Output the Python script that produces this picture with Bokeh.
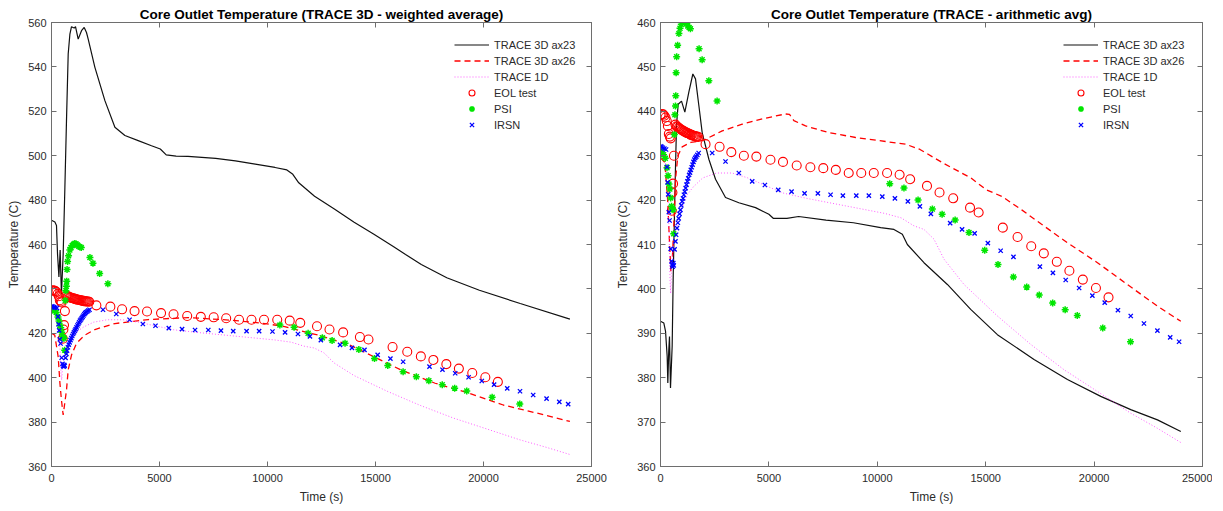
from bokeh.plotting import figure
from bokeh.models import Legend, LegendItem, FixedTicker, LinearAxis, Range1d
from bokeh.layouts import row
from bokeh.embed import file_html
from bokeh.resources import INLINE

# ---------------- data ----------------
x_ticks = [0, 5000, 10000, 15000, 20000, 25000]
y_ticks_left = [360, 380, 400, 420, 440, 460, 480, 500, 520, 540, 560]
y_ticks_right = [360, 370, 380, 390, 400, 410, 420, 430, 440, 450, 460]

titles = ["Core Outlet Temperature (TRACE 3D - weighted average)",
          "Core Outlet Temperature (TRACE - arithmetic avg)"]
series_names = ["TRACE 3D ax23", "TRACE 3D ax26", "TRACE 1D", "EOL test", "PSI", "IRSN"]

# left panel: TRACE 3D weighted average
ax23_w_t = [0, 157, 231, 278, 343, 400, 460, 540, 620, 694, 773, 852, 926, 1051, 1111, 1236, 1389, 1514,
            1620, 1699, 2009, 2472, 2935, 3398, 4014, 4630, 5037, 5311, 5769, 6319, 7601, 8516, 9432,
            10348, 10897, 11172, 11447, 12179, 13095, 14011, 14927, 15842, 16392, 17120, 18300, 19810,
            21700, 24000]
ax23_w_T = [470.9, 470.1, 468.6, 455.9, 445.4, 457.5, 437.5, 455.5, 485.8, 515.8, 545.8, 554.8, 558.1,
            557.5, 558.1, 552.5, 556.3, 557.8, 555.5, 552.5, 539.8, 524.8, 512.8, 509.1, 506.8, 504.5,
            503.0, 500.4, 499.8, 499.7, 498.8, 497.7, 496.2, 494.7, 493.6, 491.6, 487.8, 481.7, 476.0,
            470.0, 464.6, 459.0, 455.5, 451.0, 445.0, 439.4, 433.4, 426.4]

ax26_w_t = [0, 150, 310, 390, 460, 540, 620, 695, 773, 926, 1157, 1546, 2009, 2935, 4477, 6329, 8333,
            9880, 10800, 11421, 12500, 13817, 15080, 16183, 17762, 19338, 20913, 22493, 24000]
ax26_w_T = [420.0, 419.2, 409.4, 397.5, 390.0, 383.2, 389.0, 394.5, 403.5, 410.2, 415.5, 419.2, 421.7,
            424.4, 426.2, 427.1, 425.9, 424.4, 423.0, 421.4, 418.8, 414.7, 408.7, 403.5, 397.5, 393.0,
            387.7, 384.0, 380.3]

# right panel: TRACE 3D arithmetic average
ax23_a_t = [0, 154, 231, 308, 338, 380, 415, 461, 538, 584, 615, 680, 740, 815, 969, 1050, 1123, 1307,
            1492, 1615, 1769, 1923, 2231, 2538, 2999, 3614, 4384, 4999, 5199, 5830, 6372, 7635, 8899,
            10155, 10768, 11155, 11387, 12153, 13233, 14308, 15540, 17229, 18770, 20307, 21691, 22923,
            24000]
ax23_a_T = [392.7, 392.3, 390.5, 384.8, 378.8, 386.0, 389.3, 377.7, 387.1, 402.1, 409.7, 425.0, 437.0,
            441.6, 442.3, 441.0, 439.8, 444.3, 448.4, 447.3, 441.3, 435.2, 429.2, 424.7, 420.6, 419.4,
            418.3, 416.8, 415.9, 415.9, 416.3, 415.5, 414.9, 413.8, 413.4, 412.3, 410.0, 405.9, 401.0,
            395.4, 389.7, 384.1, 379.6, 375.8, 372.8, 370.5, 367.9]

ax26_a_t = [0, 200, 330, 420, 480, 540, 620, 700, 800, 1000, 1400, 1800, 2077, 2847, 3770, 4693, 5768,
            5950, 6151, 6691, 7767, 8999, 10535, 11306, 11968, 13050, 14314, 15036, 15758, 16661, 17563,
            18770, 20155, 21844, 22923, 24000]
ax26_a_T = [429.5, 428.5, 420.0, 410.0, 404.0, 406.0, 415.0, 425.0, 430.0, 432.0, 433.0, 433.3, 433.7,
            435.6, 437.1, 438.3, 439.4, 439.3, 437.9, 436.7, 435.2, 434.1, 433.1, 432.6, 431.4, 428.3,
            425.0, 422.3, 420.8, 417.8, 414.6, 410.4, 405.9, 399.9, 396.1, 392.7]

# shared: TRACE 1D
trace1d_t = [0, 200, 330, 400, 440, 470, 500, 540, 600, 700, 850, 1050, 1250, 1498, 1950, 2581, 3303,
             4025, 4928, 5650, 6733, 8538, 10343, 11100, 11691, 12153, 12614, 13076, 13999, 15540,
             17077, 18613, 20155, 21691, 22923, 24000]
trace1d_T = [430.5, 429.8, 424.0, 412.0, 402.0, 399.0, 403.0, 407.0, 410.0, 413.0, 416.0, 419.0, 421.3,
             422.9, 425.0, 426.1, 426.1, 425.0, 423.1, 421.6, 420.4, 418.7, 417.0, 416.0, 414.2, 413.4,
             411.2, 406.7, 401.0, 393.9, 387.5, 381.8, 376.9, 372.0, 368.6, 365.4]

# shared: measured / other codes
eol_t = [0, 60, 120, 180, 231, 290, 340, 385, 430, 470, 520, 550, 580, 620,
         690, 740, 790, 840, 890, 940, 990, 1040, 1090, 1140, 1190, 1240, 1290, 1340, 1390, 1440, 1490,
         1540, 1590, 1640, 1690, 1750,
         2077, 2725, 3267, 3845, 4422, 5072, 5650, 6282, 6913, 7509, 8087, 8682, 9260, 9838, 10451,
         11029, 11516, 12292, 12870, 13502, 14278, 14675, 15790, 16470, 17100, 17680, 18280, 18860,
         19480, 20085, 20665]
eol_T = [439.2, 439.4, 439.3, 439.0, 438.6, 437.8, 436.7, 434.9, 434.3, 433.9, 417.6, 421.7, 423.7, 430.0,
         437.0, 436.6, 436.5, 436.2, 436.1, 435.9, 435.8, 435.6, 435.5, 435.3, 435.2, 435.1, 435.0, 434.9,
         434.7, 434.7, 434.5, 434.5, 434.4, 434.3, 434.3, 434.2,
         432.6, 432.0, 430.8, 430.0, 429.8, 429.1, 428.6, 427.8, 427.4, 427.2, 426.8, 426.1, 426.1,
         426.1, 426.1, 425.7, 424.7, 423.2, 421.7, 420.4, 418.3, 417.2, 413.8, 411.7, 409.6, 408.0,
         406.1, 404.1, 402.1, 400.2, 398.1]

psi_t = [0, 60, 140, 220, 300, 350, 390, 430, 470, 510, 545, 580, 610, 640, 665, 690, 705, 720, 745, 790,
         850, 900, 960, 1020, 1080, 1140, 1200, 1260, 1320, 1380, 1780, 1920, 2230, 2610,
         10574, 11230, 11880, 12540, 12990, 13590, 14229, 14954, 15568, 16278, 16892, 17470, 18090,
         18665, 19225, 20400, 21680]
psi_T = [431.0, 430.6, 430.2, 429.4, 427.3, 425.5, 423.6, 422.5, 420.5, 418.6, 418.0, 417.8, 412.4, 434.8,
         439.2, 441.2, 443.5, 448.7, 452.3, 454.9, 457.5, 458.7, 459.6, 460.1, 460.4, 460.2, 459.8,
         459.2, 458.9, 458.6, 454.1, 451.6, 446.9, 442.3,
         423.7, 422.7, 420.0, 418.0, 416.8, 415.5, 412.7, 408.7, 405.5, 402.7, 400.4, 398.6, 396.8,
         395.3, 394.0, 391.2, 388.1]

irsn_t = [0, 50, 110, 180, 256, 300, 330, 355, 385, 420, 470, 510, 540, 560, 590, 610,
          650, 690, 720, 760, 800, 840, 880, 920, 960, 1000, 1040, 1080, 1120, 1160, 1200, 1240, 1280,
          1320, 1360, 1400, 1440, 1480, 1520, 1560, 1600, 1650, 1700, 1760,
          2385, 2999, 3614, 4230, 4815, 5431, 6045, 6645, 7259, 7845, 8413, 9031, 9612, 10231, 10813,
          11410, 11965, 12470, 13360, 13910, 14490, 15100, 15690, 16280, 17500, 18100, 18690, 19310,
          19920, 20490, 21100, 21690, 22300, 22920, 23510, 23920]
irsn_T = [432.1, 432.0, 431.8, 431.6, 431.4, 427.5, 424.0, 421.3, 417.3, 415.4, 409.0, 406.2, 405.4, 405.0,
          405.8, 405.3,
          408.9, 410.7, 412.2, 413.7, 414.9, 415.9, 416.9, 417.8, 418.8, 419.7, 420.4, 421.2, 421.9,
          422.7, 423.5, 424.2, 424.9, 425.7, 426.2, 426.8, 427.4, 428.0, 428.6, 429.1, 429.5, 429.8,
          430.2, 430.6,
          430.6, 428.7, 426.1, 424.2, 423.4, 422.3, 421.9, 421.5, 421.5, 421.2, 421.0, 421.0, 421.0,
          420.8, 420.4, 419.7, 418.6, 416.9, 414.8, 413.4, 412.5, 410.3, 408.6, 407.2, 405.0, 403.6,
          402.0, 400.2, 398.5, 396.9, 395.2, 393.9, 392.2, 390.6, 389.1, 388.1]

# ---------------- styling ----------------
FONT = "Liberation Sans"
TXT = "#2b2b2b"
FRAME = "#6e6e6e"


def make_panel(title, y_range, y_ticks, ax23, ax26, frame_w, border_left, border_right):
    p = figure(frame_width=frame_w, frame_height=444,
               x_range=Range1d(0, 25000), y_range=Range1d(*y_range),
               output_backend="svg", toolbar_location=None,
               min_border_left=border_left, min_border_right=border_right,
               min_border_top=22, min_border_bottom=35)
    p.title.text = title
    p.title.align = "center"
    p.title.text_font = FONT
    p.title.text_font_size = "13.5px"
    p.title.text_font_style = "bold"
    p.title.text_color = "#000000"
    p.title.standoff = 2
    p.grid.visible = False
    p.outline_line_color = FRAME
    p.outline_line_width = 1
    p.background_fill_color = "white"
    p.border_fill_color = "white"

    for ax, ticks in ((p.xaxis[0], x_ticks), (p.yaxis[0], y_ticks)):
        ax.ticker = FixedTicker(ticks=ticks)
        ax.major_tick_in = 5
        ax.major_tick_out = 0
        ax.minor_tick_line_color = None
        ax.major_tick_line_color = FRAME
        ax.axis_line_color = FRAME
        ax.major_label_text_font = FONT
        ax.major_label_text_font_size = "11px"
        ax.major_label_text_color = TXT
        ax.axis_label_text_font = FONT
        ax.axis_label_text_font_size = "12px"
        ax.axis_label_text_font_style = "normal"
        ax.axis_label_text_color = TXT
    p.xaxis.major_label_standoff = 7
    p.xaxis.axis_label_standoff = 5
    p.yaxis.major_label_standoff = 5
    p.yaxis.axis_label_standoff = 4
    p.xaxis.axis_label = "Time (s)"
    p.yaxis.axis_label = "Temperature (C)"

    # box ticks on top and right (no labels drawn)
    for loc, ticks in (("above", x_ticks), ("right", y_ticks)):
        a = LinearAxis(ticker=FixedTicker(ticks=ticks), major_tick_in=5, major_tick_out=0,
                       minor_tick_line_color=None, major_tick_line_color=FRAME,
                       axis_line_color=FRAME, major_label_text_font_size="1px",
                       major_label_text_color=None, major_label_standoff=0)
        p.add_layout(a, loc)

    r1 = p.line(ax23[0], ax23[1], line_color="#111111", line_width=1.2)
    r2 = p.line(ax26[0], ax26[1], line_color="#ff0000", line_width=1.3, line_dash="6 4")
    r3 = p.line(trace1d_t, trace1d_T, line_color="#ff33ff", line_width=1, line_dash="1 2", line_alpha=0.8)
    r4 = p.scatter(eol_t, eol_T, marker="circle", size=9, fill_color=None,
                   line_color="#ff0000", line_width=1.1)
    r5 = p.scatter(psi_t, psi_T, marker="asterisk", size=7, line_color="#00e600", line_width=1.5)
    r6 = p.scatter(irsn_t, irsn_T, marker="x", size=6, line_color="#0000ff", line_width=1.3)

    items = [LegendItem(label=n, renderers=[r]) for n, r in zip(series_names, [r1, r2, r3, r4, r5, r6])]
    leg = Legend(items=items, location=(403, 334), glyph_width=35, glyph_height=15, label_height=15,
                 label_standoff=5, spacing=1, padding=0, margin=0,
                 label_text_font=FONT, label_text_font_size="11px", label_text_color=TXT,
                 border_line_alpha=0, background_fill_alpha=0)
    p.add_layout(leg)
    return p


left = make_panel(titles[0], (360, 560), y_ticks_left, (ax23_w_t, ax23_w_T), (ax26_w_t, ax26_w_T),
                  540, 51, 22)
right = make_panel(titles[1], (360, 460), y_ticks_right, (ax23_a_t, ax23_a_T), (ax26_a_t, ax26_a_T),
                   542, 45, 10)

layout = row(left, right)
open("out.html", "w").write(file_html(layout, INLINE))
